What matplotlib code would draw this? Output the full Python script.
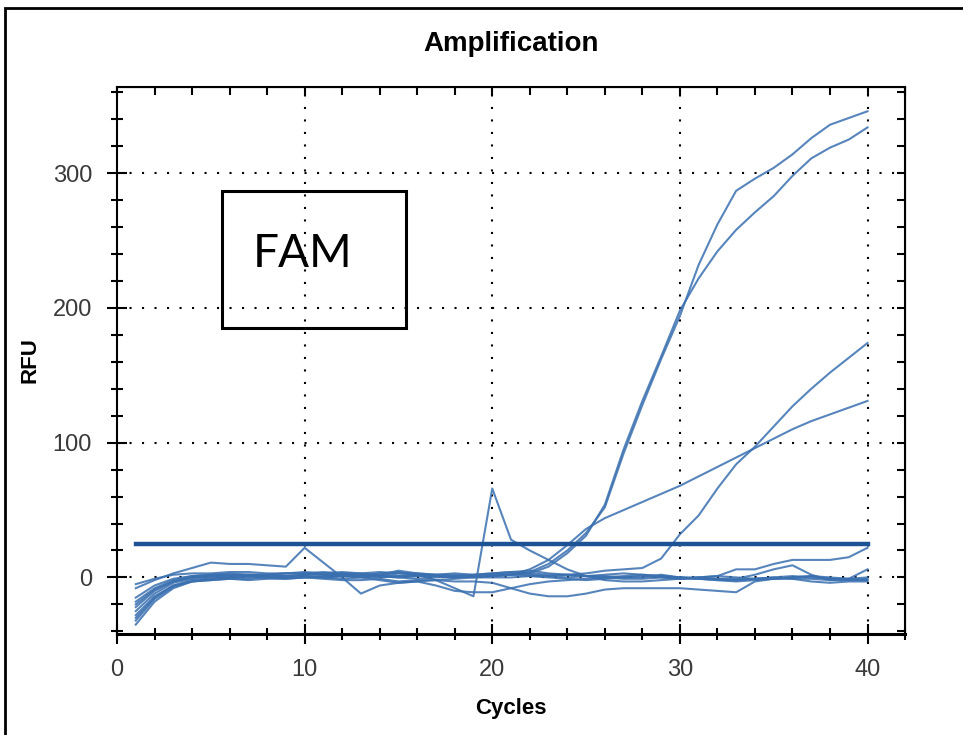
import numpy as np
import matplotlib.pyplot as plt
from matplotlib.patches import Rectangle
from matplotlib.ticker import MultipleLocator

# qPCR amplification curves (RFU per cycle)
cycles = np.arange(1, 41)

rfu_a = [-20, -9, -3, 0, 1, 2, 2, 1, 1, 2, 2, 1, 1, 2, 1, 1, 2, 2, 1, 2,
         2, 4, 10, 20, 33, 52, 92, 128, 162, 194, 232, 262, 287, 296, 304, 314, 326, 336, 341, 346]
rfu_b = [-25, -12, -4, -1, 0, 1, 1, 0, 1, 1, 0, 1, 2, 1, 0, 1, 1, 0, 1, 1,
         2, 3, 8, 18, 31, 54, 95, 131, 164, 198, 222, 242, 258, 271, 283, 298, 311, 319, 325, 334]
rfu_c = [-30, -15, -6, -2, -1, 0, 0, 1, 0, 0, 1, 2, 1, 0, 1, 2, 1, 0, 1, 1,
         2, 6, 13, 24, 36, 44, 50, 56, 62, 68, 75, 82, 89, 96, 103, 110, 116, 121, 126, 131]
rfu_d = [-35, -18, -8, -3, -1, 0, 1, 0, 0, 1, 0, -1, 0, 1, 0, -1, 0, 1, 0, 0,
         0, 1, 1, 2, 3, 5, 6, 7, 14, 32, 46, 66, 84, 97, 112, 127, 140, 152, 163, 174]
rfu_e = [-15, -6, -1, 1, 2, 2, 1, 2, 3, 3, 2, 3, 2, 1, 3, 2, -2, -8, -14, 66,
         28, 20, 13, 6, 1, -2, -3, -3, -2, -1, 0, 1, 0, -1, 0, 1, 0, -1, -1, 0]
rfu_f = [-8, -2, 3, 7, 11, 10, 10, 9, 8, 22, 11, 0, -12, -6, -4, -3, -2, -1, 0, 1,
         2, 1, 0, -1, -2, -1, 0, 1, 0, -1, 0, -1, -2, -1, 0, -1, -1, -2, -2, -1]
rfu_g = [-22, -10, -3, 0, 1, 1, 2, 2, 1, 2, 3, 2, 1, 3, 4, 2, 1, 0, 1, 2,
         3, 2, 1, 0, 1, 2, 3, 2, 1, 0, -1, -1, -1, 2, 6, 9, 2, -2, -1, 6]
rfu_h = [-18, -8, -2, 1, 2, 3, 2, 2, 3, 3, 4, 3, 3, 4, 3, 3, 2, 3, 2, 3,
         4, 3, 2, 2, 1, 1, 0, 0, 2, 0, 0, 1, 6, 6, 10, 13, 13, 13, 15, 22]
rfu_j = [-28, -14, -6, -3, -2, -1, -2, -1, -1, 0, -1, -2, -2, -1, -3, -2, -2, -3, -3, -4,
         -8, -12, -14, -14, -12, -9, -8, -8, -8, -8, -9, -10, -11, -3, -1, -1, -3, -4, -3, -3]
rfu_k = [-32, -16, -7, -3, -2, -1, -1, 0, -1, 0, 0, 1, 0, -2, -4, -3, -6, -10, -11, -11,
         -8, -5, -3, -2, -1, 0, 1, 2, 1, 0, -1, -2, -3, -2, -1, 0, 1, -1, -2, -2]
rfu_l = [-5, -1, 2, 3, 3, 4, 4, 3, 3, 4, 3, 4, 3, 2, 5, 3, 2, 1, 2, 3,
         4, 5, 3, 2, 1, 0, -1, -1, 0, -1, -1, -2, -2, -1, -1, 0, 1, 0, -1, -2]

wells = [rfu_a, rfu_b, rfu_c, rfu_d, rfu_e, rfu_f, rfu_g, rfu_h, rfu_j, rfu_k, rfu_l]

threshold = 25
threshold_span = [1, 40]

plt.rcParams['font.family'] = ['Liberation Sans', 'DejaVu Sans']

fig = plt.figure(figsize=(9.63, 7.35), dpi=100)
ax = fig.add_axes((0.1215, 0.1374, 0.8183, 0.7442))

# dotted grid at the major ticks
for x in [10, 20, 30, 40]:
    ax.axvline(x, color='k', ls=(0, (1, 5)), lw=1.5, zorder=1)
for y in [0, 100, 200, 300]:
    ax.axhline(y, color='k', ls=(0, (1, 5)), lw=1.5, zorder=1)

for rfu in wells:
    ax.plot(cycles, rfu, color='#3a70b0', lw=1.5, alpha=0.85, zorder=3)

ax.plot(threshold_span, [threshold, threshold], color='#1d5394', lw=3.2, zorder=4)

ax.set_xlim(0, 42)
ax.set_ylim(-42, 364)

ax.xaxis.set_major_locator(MultipleLocator(10))
ax.xaxis.set_minor_locator(MultipleLocator(2))
ax.yaxis.set_major_locator(MultipleLocator(100))
ax.yaxis.set_minor_locator(MultipleLocator(20))
ax.tick_params(which='both', direction='inout', width=1.5, color='k')
ax.tick_params(which='major', length=14)
ax.tick_params(which='minor', length=9)
ax.tick_params(labelsize=17, labelcolor='#3a3a3a', pad=11)

# inward ticks on the top and right edges
top = ax.secondary_xaxis('top')
top.xaxis.set_major_locator(MultipleLocator(10))
top.xaxis.set_minor_locator(MultipleLocator(2))
top.tick_params(which='both', direction='in', length=6, width=1.5, labeltop=False)
right = ax.secondary_yaxis('right')
right.yaxis.set_major_locator(MultipleLocator(100))
right.yaxis.set_minor_locator(MultipleLocator(20))
right.tick_params(which='both', direction='in', length=6, width=1.5, labelright=False)

for s in ax.spines.values():
    s.set_linewidth(1.5)
ax.spines['bottom'].set_linewidth(2.2)

ax.set_title('Amplification', fontsize=20, fontweight='bold', pad=26)
ax.set_xlabel('Cycles', fontsize=16, fontweight='bold', labelpad=12)
ax.set_ylabel('RFU', fontsize=16, fontweight='bold', labelpad=9)

# FAM label box
ax.add_patch(Rectangle((5.6, 185), 9.8, 102, fill=False, ec='k', lw=2.2, zorder=5))
ax.text(9.9, 240, 'FAM', fontsize=33, family='Lato', ha='center', va='center', zorder=5)

# outer frame of the screenshot
fig.add_artist(Rectangle((0.005, -0.05), 1.2, 1.039, transform=fig.transFigure,
                         fill=False, ec='k', lw=2))

fig.savefig('out.png', dpi=100)
